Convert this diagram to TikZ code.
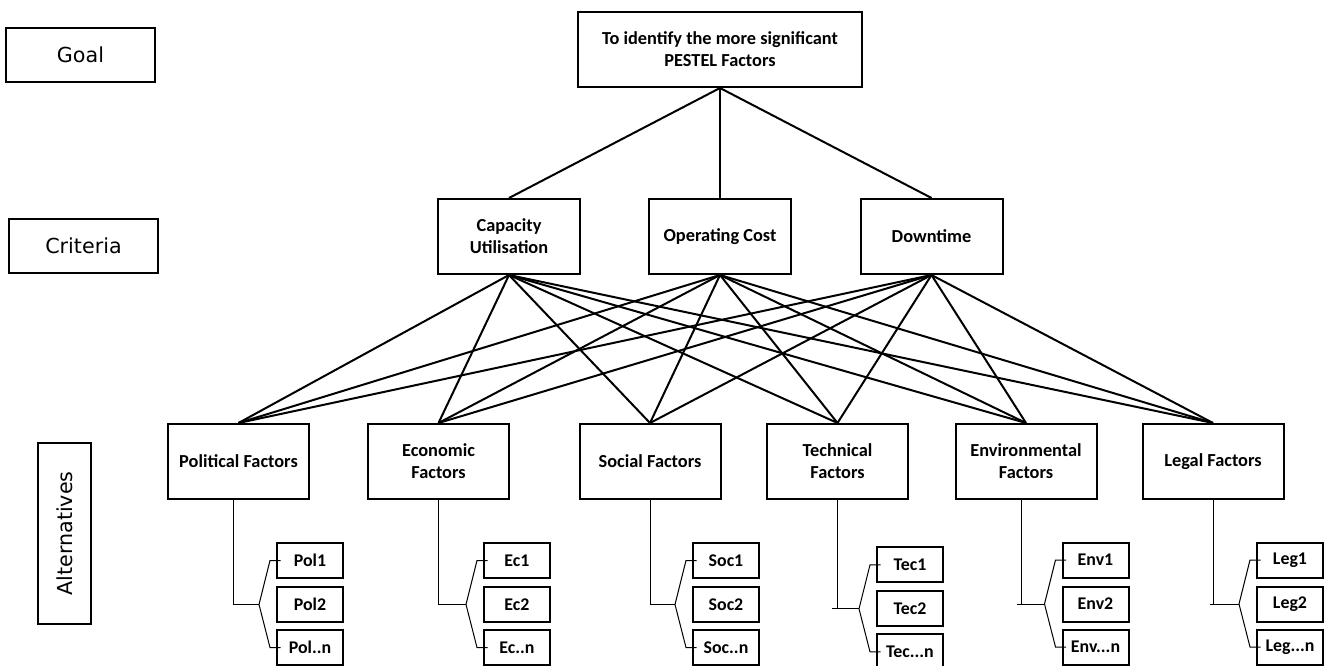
\documentclass[tikz,border=0pt]{standalone}
\usepackage{fontspec}
\setmainfont{Carlito}
\newfontfamily\levelfont{DejaVu Sans}
\usetikzlibrary{calc}

\begin{document}
\begin{tikzpicture}[x=0.75pt,y=-0.75pt,
  box/.style={draw, line width=1.5pt, inner sep=0pt, align=center,
    font=\bfseries\fontsize{13.75}{16.5}\selectfont},
  levelbox/.style={draw, line width=1.5pt, inner sep=0pt,
    font=\levelfont\fontsize{15.5}{18}\selectfont,
    minimum width=111.75pt, minimum height=40.5pt},
  crit/.style={box, minimum width=106.5pt, minimum height=56.25pt},
  alt/.style={box, minimum width=105.75pt, minimum height=56.25pt},
  sub/.style={box, minimum width=49.5pt, minimum height=26.25pt,
    font=\bfseries\fontsize{13.4}{16}\selectfont},
  link/.style={line width=1.5pt},
  twig/.style={line width=0.75pt}]

\useasboundingbox (0,0) rectangle (1328,666);

% level labels on the left
\node[levelbox] (goallbl) at (80.5,55) {Goal};
\node[levelbox] (critlbl) at (83.5,246) {Criteria};
\node[levelbox, rotate=90, minimum width=135.75pt, minimum height=39.75pt]
  (altlbl) at (64.5,533.5) {Alternatives};

% goal
\node[box, minimum width=213pt, minimum height=56.25pt] (goal) at (720,49.5)
  {To identify the more significant\\PESTEL Factors};

% criteria
\node[crit] (cap) at (509,236.5) {Capacity\\Utilisation};
\node[crit] (opc) at (720,236.5) {Operating Cost};
\node[crit] (dwn) at (931.5,236.5) {Downtime};

% alternatives
\node[alt] (pol) at (238.5,461.5) {Political Factors};
\node[alt] (eco) at (438.5,461.5) {Economic\\Factors};
\node[alt] (soc) at (650,461.5) {Social Factors};
\node[alt] (tec) at (837.5,461.5) {Technical\\Factors};
\node[alt] (env) at (1026,461.5) {Environmental\\Factors};
\node[alt] (leg) at (1213,461.5) {Legal Factors};

% goal to criteria
\foreach \c in {cap,opc,dwn}
  \draw[link] (goal.south) -- (\c.north);

% every criterion to every alternative
\foreach \c in {cap,opc,dwn}
  \foreach \a in {pol,eco,soc,tec,env,leg}
    \draw[link] (\c.south) -- (\a.north);

% sub-factor boxes
\node[sub] (pol1) at (310,560.5) {Pol1};
\node[sub] (pol2) at (310,604.5) {Pol2};
\node[sub] (pol3) at (310,647.5) {Pol..n};
\node[sub] (eco1) at (517,560.5) {Ec1};
\node[sub] (eco2) at (517,604.5) {Ec2};
\node[sub] (eco3) at (517,647.5) {Ec..n};
\node[sub] (soc1) at (726,560.5) {Soc1};
\node[sub] (soc2) at (726,604.5) {Soc2};
\node[sub] (soc3) at (726,647.5) {Soc..n};
\node[sub] (tec1) at (910,564.8) {Tec1};
\node[sub] (tec2) at (910,608.8) {Tec2};
\node[sub] (tec3) at (910,651.8) {Tec...n};
\node[sub] (env1) at (1095.5,560) {Env1};
\node[sub] (env2) at (1095.5,604) {Env2};
\node[sub] (env3) at (1095.5,647) {Env...n};
\node[sub] (leg1) at (1290,560) {Leg1};
\node[sub] (leg2) at (1290,604) {Leg2};
\node[sub] (leg3) at (1290,647) {Leg...n};

% drop lines and brackets to the sub-factor boxes
\foreach \n/\off/\stub in {pol/-5/0, eco/0/0, soc/0/0, tec/0/5.5, env/-5/4, leg/0/3}
{
  \coordinate (tip\n) at ($(\n2.west)+(-17,0)$);
  \draw[twig] ($(\n.south)+(\off,0)$) |- (tip\n);
  \draw[twig] ($(\n.south |- tip\n)+(\off-\stub,0)$) -- ++(\stub,0);
  \draw[twig] ([xshift=3.5pt]\n1.west) -- ([xshift=-4.5pt]\n1.west)
    -- (tip\n) -- ([xshift=-4.5pt]\n3.west) -- ([xshift=3.5pt]\n3.west);
}
\end{tikzpicture}
\end{document}
